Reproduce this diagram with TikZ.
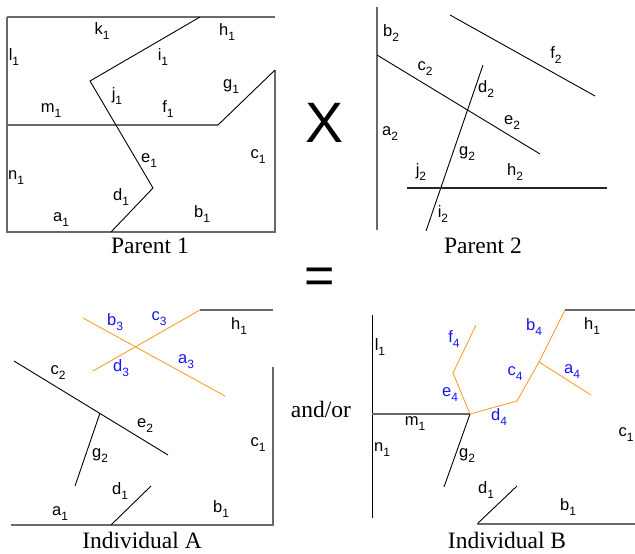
\documentclass[tikz,border=0pt]{standalone}
\usepackage{fontspec}
\setmainfont{Liberation Serif}
\newfontfamily\labfont{Liberation Sans}
\definecolor{edgegray}{RGB}{105,105,105}
\definecolor{crossorange}{RGB}{250,160,45}
\definecolor{labblue}{RGB}{20,20,245}
\newcommand\lb[2]{#1\raisebox{-0.3em}{\fontsize{12}{12}\selectfont #2}}
\tikzset{
  axisline/.style={draw=edgegray, line width=1.5pt},
  diagline/.style={draw=black, line width=0.9pt},
  newline/.style={draw=crossorange, line width=0.9pt},
  lbl/.style={font=\labfont\fontsize{16.5}{16.5}\selectfont, inner sep=0pt},
  blbl/.style={lbl, text=labblue},
  captext/.style={font=\fontsize{23.5}{24}\selectfont, inner sep=0pt},
}
\begin{document}
\begin{tikzpicture}[x=1pt,y=-1pt]
\useasboundingbox (0,0) rectangle (635,554);
% ---------- Parent 1 ----------
\coordinate (p1tl) at (7,17);
\coordinate (p1tr) at (275,17);
\coordinate (p1bl) at (7,232);
\coordinate (p1br) at (275,232);
\coordinate (p1rt) at (275,70);
\coordinate (p1mk) at (218,125);
\coordinate (p1ml) at (7,125);
\coordinate (z1) at (200,17);
\coordinate (z2) at (90,81);
\coordinate (z3) at (153,188);
\coordinate (z4) at (111,232);
\draw[axisline] (p1tl) -- (p1tr);
\draw[axisline] (p1tl) -- (p1bl) -- (p1br) -- (p1rt);
\draw[axisline] (p1ml) -- (p1mk);
\draw[diagline] (p1mk) -- (p1rt);
\draw[diagline] (z1) -- (z2) -- (z3) -- (z4);
\node[lbl] (k1) at (102,31) {\lb{k}{1}};
\node[lbl] (h1) at (227,32) {\lb{h}{1}};
\node[lbl] (l1) at (14,57) {\lb{l}{1}};
\node[lbl] (i1) at (163,57) {\lb{i}{1}};
\node[lbl] (g1) at (231,87) {\lb{g}{1}};
\node[lbl] (j1) at (117,96) {\lb{j}{1}};
\node[lbl] (m1) at (51,111) {\lb{m}{1}};
\node[lbl] (f1) at (168,109) {\lb{f}{1}};
\node[lbl] (e1) at (149,161) {\lb{e}{1}};
\node[lbl] (c1) at (258,157) {\lb{c}{1}};
\node[lbl] (n1) at (16,178) {\lb{n}{1}};
\node[lbl] (d1) at (121,197) {\lb{d}{1}};
\node[lbl] (a1) at (61,220) {\lb{a}{1}};
\node[lbl] (b1) at (202,214) {\lb{b}{1}};
\node[captext] (cap1) at (150,246) {Parent 1};
% ---------- Parent 2 ----------
\coordinate (v2t) at (377,7);
\coordinate (v2b) at (377,230);
\coordinate (f2a) at (450,15);
\coordinate (f2b) at (595,96);
\coordinate (c2a) at (377,55);
\coordinate (c2b) at (540,154);
\coordinate (d2a) at (483,65);
\coordinate (d2b) at (426,231);
\coordinate (h2a) at (407,188);
\coordinate (h2b) at (607,188);
\draw[axisline] (v2t) -- (v2b);
\draw[diagline] (f2a) -- (f2b);
\draw[diagline] (c2a) -- (c2b);
\draw[diagline] (d2a) -- (d2b);
\draw[axisline, line width=1.2pt, draw=black!85] (h2a) -- (h2b);
\node[lbl] (b2) at (391,33) {\lb{b}{2}};
\node[lbl] (f2) at (556,55) {\lb{f}{2}};
\node[lbl] (c2) at (425,69) {\lb{c}{2}};
\node[lbl] (d2) at (486,89) {\lb{d}{2}};
\node[lbl] (e2) at (512,123) {\lb{e}{2}};
\node[lbl] (a2) at (390,134) {\lb{a}{2}};
\node[lbl] (g2) at (467,154) {\lb{g}{2}};
\node[lbl] (j2) at (421,172) {\lb{j}{2}};
\node[lbl] (h2) at (515,172) {\lb{h}{2}};
\node[lbl] (i2) at (443,214) {\lb{i}{2}};
\node[captext] (cap2) at (483,246) {Parent 2};
% ---------- operators ----------
\node[font=\labfont\fontsize{57}{57}\selectfont, inner sep=0pt] (times) at (325,123) {X};
\node[font=\labfont\fontsize{52}{52}\selectfont, inner sep=0pt] (equals) at (320,281) {=};
\node[captext] (andor) at (321,409) {and/or};
% ---------- Individual A ----------
\coordinate (ab3) at (83,318);
\coordinate (aa3) at (225,396);
\coordinate (ad3) at (93,371);
\coordinate (ac3) at (200,310);
\coordinate (ah1) at (273,310);
\coordinate (arct) at (273,367);
\coordinate (arcb) at (273,525);
\coordinate (abl) at (11,525);
\coordinate (ac2a) at (14,361);
\coordinate (ac2b) at (168,455);
\coordinate (ag2a) at (100,413);
\coordinate (ag2b) at (75,486);
\coordinate (ad1a) at (111,525);
\coordinate (ad1b) at (151,486);
\draw[newline] (ab3) -- (aa3);
\draw[newline] (ad3) -- (ac3);
\draw[axisline] (ac3) -- (ah1);
\draw[axisline] (arct) -- (arcb) -- (abl);
\draw[diagline] (ac2a) -- (ac2b);
\draw[diagline] (ag2a) -- (ag2b);
\draw[diagline] (ad1a) -- (ad1b);
\node[blbl] (Ab3) at (115,322) {\lb{b}{3}};
\node[blbl] (Ac3) at (159,319) {\lb{c}{3}};
\node[lbl] (Ah1) at (239,326) {\lb{h}{1}};
\node[blbl] (Ad3) at (121,368) {\lb{d}{3}};
\node[blbl] (Aa3) at (186,362) {\lb{a}{3}};
\node[lbl] (Ac2) at (58,373) {\lb{c}{2}};
\node[lbl] (Ae2) at (145,426) {\lb{e}{2}};
\node[lbl] (Ac1) at (258,445) {\lb{c}{1}};
\node[lbl] (Ag2) at (100,456) {\lb{g}{2}};
\node[lbl] (Ad1) at (120,491) {\lb{d}{1}};
\node[lbl] (Aa1) at (60,514) {\lb{a}{1}};
\node[lbl] (Ab1) at (221,509) {\lb{b}{1}};
\node[captext] (capA) at (142,540) {Individual A};
% ---------- Individual B ----------
\coordinate (bvt) at (372,315);
\coordinate (bvb) at (372,518);
\coordinate (bml) at (372,414);
\coordinate (bx) at (470,414);
\coordinate (bg2) at (444,487);
\coordinate (be4) at (453,373);
\coordinate (bf4) at (476,325);
\coordinate (bd4) at (517,401);
\coordinate (bc4) at (539,362);
\coordinate (bb4) at (565,310);
\coordinate (bh1) at (635,310);
\coordinate (ba4) at (591,395);
\coordinate (bd1a) at (477,524);
\coordinate (bd1b) at (517,486);
\coordinate (bbr) at (635,524);
\draw[diagline] (bvt) -- (bvb);
\draw[axisline] (bml) -- (bx);
\draw[diagline] (bx) -- (bg2);
\draw[newline] (bx) -- (be4) -- (bf4);
\draw[newline] (bx) -- (bd4) -- (bc4) -- (bb4);
\draw[newline] (bc4) -- (ba4);
\draw[axisline] (bb4) -- (bh1);
\draw[diagline] (bd1a) -- (bd1b);
\draw[axisline] (bd1a) -- (bbr);
\node[blbl] (Bf4) at (454,339) {\lb{f}{4}};
\node[blbl] (Bb4) at (534,327) {\lb{b}{4}};
\node[lbl] (Bh1) at (592,326) {\lb{h}{1}};
\node[lbl] (Bl1) at (380,347) {\lb{l}{1}};
\node[blbl] (Bc4) at (515,374) {\lb{c}{4}};
\node[blbl] (Ba4) at (572,372) {\lb{a}{4}};
\node[blbl] (Be4) at (450,395) {\lb{e}{4}};
\node[blbl] (Bd4) at (499,417) {\lb{d}{4}};
\node[lbl] (Bm1) at (415,424) {\lb{m}{1}};
\node[lbl] (Bc1) at (626,435) {\lb{c}{1}};
\node[lbl] (Bn1) at (382,450) {\lb{n}{1}};
\node[lbl] (Bg2) at (467,456) {\lb{g}{2}};
\node[lbl] (Bd1) at (486,490) {\lb{d}{1}};
\node[lbl] (Bb1) at (568,507) {\lb{b}{1}};
\node[captext] (capB) at (507,540) {Individual B};
\end{tikzpicture}
\end{document}
